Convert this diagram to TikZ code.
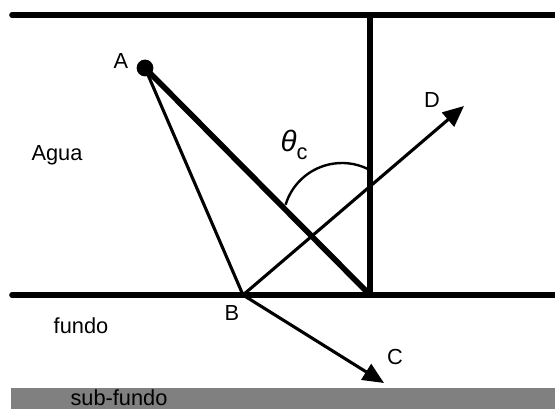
\documentclass[tikz,border=0pt]{standalone}
\usepackage{fontspec}
\setmainfont{Liberation Sans}
\usetikzlibrary{arrows.meta,calc}
\usepackage{tkz-euclide}
\definecolor{SubClr}{rgb}{0.5,0.5,0.5}

\begin{document}
\begin{tikzpicture}[font=\fontsize{15.5}{18}\selectfont,
  lbl/.style={inner sep=0pt},
  ray/.style={line width=2.2pt,-{Triangle[length=15pt,width=13pt]}}]
\useasboundingbox (0,0) rectangle (13.875,10.225);
\tkzSetUpLine[line width=4pt,color=black]

\tkzDefPoints{0.3/9.85/TL,13.875/9.85/TR,0.3/2.85/BL,13.875/2.85/BR}
\tkzDefPoints{9.25/9.85/V1,9.25/2.85/V2}
\tkzDefPoints{3.625/8.525/A,6.075/2.85/B,11.6/7.575/D,9.6/0.65/C}
\tkzDefPoints{8.55/4.675/O}

% sub-fundo
\fill[SubClr] (0.275,0) rectangle (13.875,0.525);

\tkzDrawSegments(TL,TR BL,BR V1,V2)
\tkzDrawSegments[line width=4pt](A,V2)
\tkzDrawSegments[line width=2.2pt](A,B)
\draw[ray] (B) -- (D);
\draw[ray] (B) -- (C);
\draw[line width=1.7pt] ($(O)+(163:1.475)$) arc[start angle=163,end angle=64,radius=1.475];
\fill (A) circle (0.21);

\node[lbl] (labA) at (3.025,8.7) {A};
\node[lbl] (labB) at (5.8,2.4) {B};
\node[lbl] (labC) at (9.875,1.3) {C};
\node[lbl] (labD) at (10.8,7.725) {D};
\node[lbl] (theta) at (7.35,6.6) {{\fontsize{21}{24}\selectfont\itshape θ}\raisebox{-0.35em}{c}};
\node[lbl] (agua) at (1.425,6.35) {Agua};
\node[lbl] (fundo) at (2.025,2.075) {fundo};
\node[lbl] (subfundo) at (2.975,0.27) {sub-fundo};

\end{tikzpicture}
\end{document}
